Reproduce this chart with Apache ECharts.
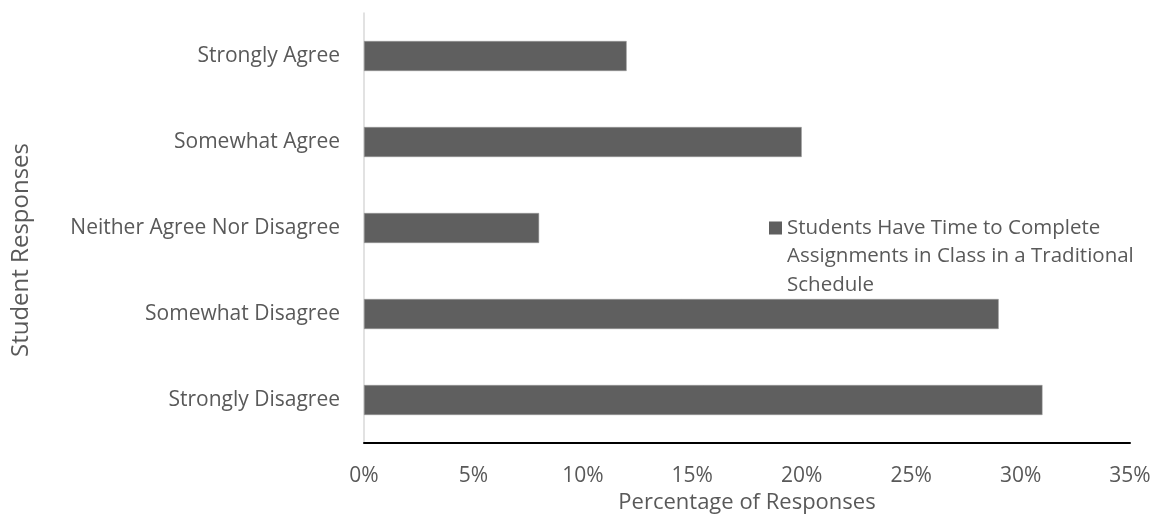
<!DOCTYPE html>
<html>
<head>
<meta charset="utf-8">
<script src="https://cdn.jsdelivr.net/npm/echarts@6/dist/echarts.min.js"></script>
<style>
  html, body { margin: 0; padding: 0; background: #ffffff; }
  #chart { width: 1153px; height: 514px; }
</style>
</head>
<body>
<div id="chart"></div>
<script>
// Survey categories, listed top to bottom
const categories = [
  'Strongly Agree',
  'Somewhat Agree',
  'Neither Agree Nor Disagree',
  'Somewhat Disagree',
  'Strongly Disagree'
];
// Share of responses per category, in percent
const responseShares = [12, 20, 8, 29, 31];
const seriesName = 'Students Have Time to Complete\nAssignments in Class in a Traditional\nSchedule';
const xTickMax = 35;
const xTickStep = 5;

const FONT = '"Open Sans", sans-serif';
const TEXT = '#595959';
const BAR = '#5f5f5f';

// Legend swatch: a 13px square sitting level with the first of three text lines;
// the two hairline corners stretch the icon box to the full text height.
const LINE_H = 28.6;
const ICON_H = LINE_H * 3;
const sqTop = LINE_H / 2 - 6.5;
const legendIcon = 'path://M0,0H0.01V0.01H0Z'
  + 'M0,' + sqTop + 'H13V' + (sqTop + 13) + 'H0Z'
  + 'M0,' + (ICON_H - 0.01) + 'H0.01V' + ICON_H + 'H0Z';

const chart = echarts.init(document.getElementById('chart'), null, { renderer: 'canvas' });
chart.setOption({
  backgroundColor: '#ffffff',
  animation: false,
  grid: {
    left: 364, right: 23, top: 13, bottom: 71,
    containLabel: false,
    outerBoundsMode: 'none'
  },
  legend: {
    left: 769,
    top: 228 - LINE_H / 2,
    padding: 0,
    orient: 'vertical',
    icon: legendIcon,
    itemWidth: 13,
    itemHeight: ICON_H,
    itemGap: 0,
    itemStyle: { borderWidth: 0, color: BAR },
    textStyle: {
      fontFamily: FONT,
      fontSize: 20.5,
      color: TEXT,
      lineHeight: LINE_H
    },
    data: [seriesName]
  },
  xAxis: {
    type: 'value',
    min: 0,
    max: xTickMax,
    interval: xTickStep,
    name: 'Percentage of Responses',
    nameLocation: 'middle',
    nameGap: 49,
    nameTextStyle: { fontFamily: FONT, fontSize: 22, color: TEXT },
    axisLine: { show: true, lineStyle: { color: '#000000', width: 2 } },
    axisTick: { show: false },
    splitLine: { show: false },
    axisLabel: {
      fontFamily: FONT, fontSize: 21, color: TEXT, margin: 23,
      formatter: v => v + '%'
    }
  },
  yAxis: {
    type: 'category',
    data: categories,
    inverse: true,
    name: 'Student Responses',
    nameLocation: 'middle',
    nameGap: 331,
    nameTextStyle: { fontFamily: FONT, fontSize: 24, color: TEXT, padding: [0, 44, 0, 0] },
    axisLine: { show: true, lineStyle: { color: '#d9d9d9', width: 1.5 } },
    axisTick: { show: false },
    axisLabel: { fontFamily: FONT, fontSize: 21, color: TEXT, margin: 24, padding: [10, 0, 0, 0] }
  },
  series: [{
    name: seriesName,
    type: 'bar',
    data: responseShares,
    barWidth: 30,
    itemStyle: { color: BAR, borderColor: '#9a9a9a', borderWidth: 0.5 }
  }]
});
</script>
</body>
</html>
